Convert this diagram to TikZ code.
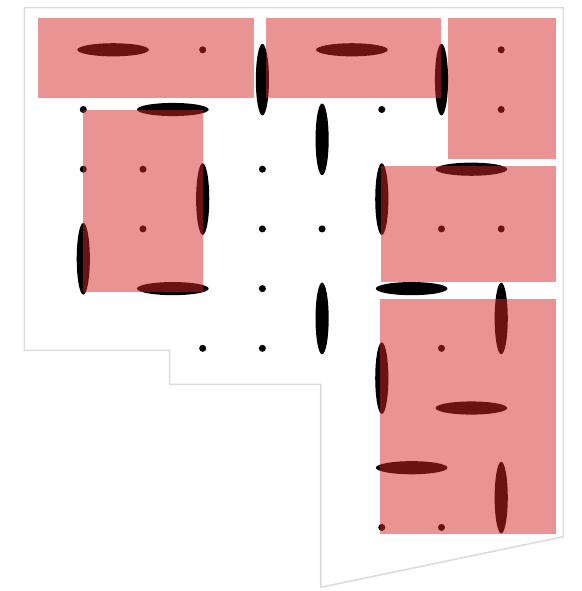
\documentclass[tikz,border=0pt]{standalone}
\usepackage{tikz}
\usetikzlibrary{calc}

\definecolor{clusterred}{RGB}{214,39,40}
\definecolor{wallgray}{RGB}{220,220,220}

\begin{document}
\begin{tikzpicture}[x=1.194cm,y=-1.194cm,
        sitedot/.style={fill=black},
        dimer/.style={fill=black},
        cluster/.style={fill=clusterred,fill opacity=0.5},
        wall/.style={draw=wallgray,line width=0.9pt}]
            \useasboundingbox (-1.395,-0.834) rectangle (8.353,9.065);

            \coordinate (A) at (-0.988,-0.705);
            \coordinate (B) at (8.040,-0.705);
            \coordinate (C) at (8.040,8.156);
            \coordinate (D) at (3.977,9.003);
            \coordinate (E) at (3.977,5.603);
            \coordinate (F) at (1.447,5.603);
            \coordinate (G) at (1.447,5.034);
            \coordinate (H) at (-0.988,5.034);

            \draw[wall] (A)--(B)--(C)--(D)--(E)--(F)--(G)--(H)--cycle;

            % horizontal dimers
            \foreach \i/\j in {0/0,4/0,1/1,6/2,1/4,5/4,6/6,5/7}{
                \fill[dimer] (\i+0.5,\j) ellipse (0.6 and 0.11);
            }
            % vertical dimers
            \foreach \i/\j in {3/0,6/0,4/1,2/2,5/2,0/3,4/4,7/4,5/5,7/7}{
                \fill[dimer] (\i,\j+0.5) ellipse (0.11 and 0.6);
            }
            % free sites
            \foreach \i/\j in {2/0,7/0,0/1,5/1,7/1,0/2,1/2,3/2,1/3,3/3,4/3,6/3,7/3,3/4,2/5,3/5,6/5,5/8,6/8}{
                \fill[sitedot] (\i,\j) circle (0.059);
            }

            \fill[cluster] (-0.754,-0.538) rectangle (2.859,0.802);
            \fill[cluster] (3.055,-0.538) rectangle (5.992,0.802);
            \fill[cluster] (6.114,-0.538) rectangle (7.918,1.834);
            \fill[cluster] (-0.005,1.008) rectangle (2.005,4.057);
            \fill[cluster] (4.987,1.941) rectangle (7.918,3.884);
            \fill[cluster] (4.970,4.179) rectangle (7.918,8.106);
        \end{tikzpicture}
\end{document}
